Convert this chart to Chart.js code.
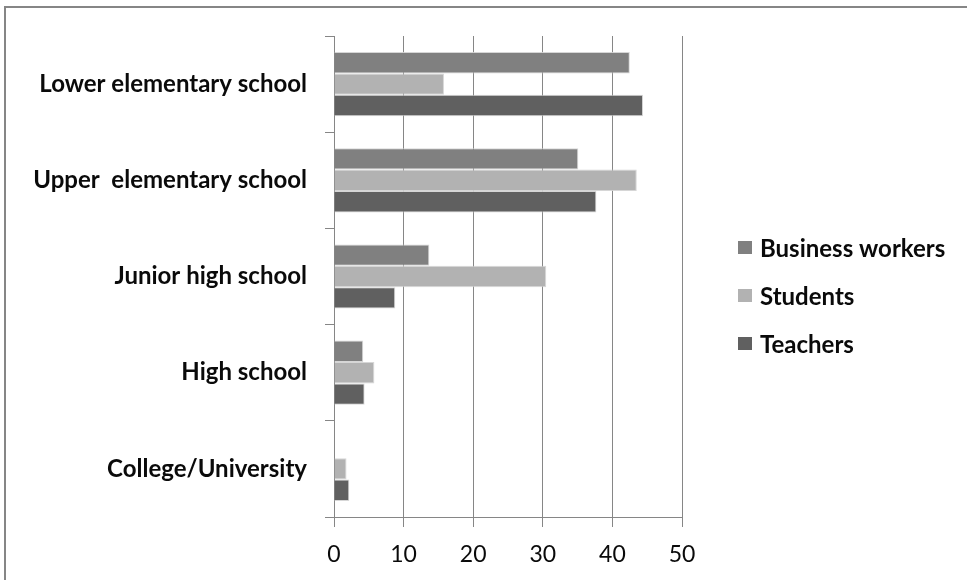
<!DOCTYPE html>
<html>
<head>
<meta charset="utf-8">
<script src="https://cdn.jsdelivr.net/npm/chart.js@4"></script>
<style>
  html, body { margin: 0; padding: 0; background: #fff; }
  #wrap { position: relative; width: 967px; height: 580px; overflow: hidden; }
  #frame { position: absolute; left: 4px; top: 6px; width: 1000px; height: 1000px;
           border-top: 2px solid #868686; border-left: 2px solid #868686; }
  canvas { position: absolute; left: 0; top: 0; }
</style>
</head>
<body>
<div id="wrap">
  <div id="frame"></div>
  <canvas id="chart" width="967" height="580"></canvas>
</div>
<script>
// categories and series
const categories = ['Lower elementary school', 'Upper  elementary school', 'Junior high school', 'High school', 'College/University'];
const businessWorkers = [42.5, 35.1, 13.7, 4.2, 0];
const students = [15.8, 43.5, 30.5, 5.8, 1.8];
const teachers = [44.4, 37.7, 8.8, 4.4, 2.2];
const xTicks = [0, 10, 20, 30, 40, 50];

const seriesNames = ['Business workers', 'Students', 'Teachers'];
const seriesColors = ['#808080', '#b2b2b2', '#606060'];

const gridGray = '#868686';
const labelFont = 'Lato, "Open Sans", sans-serif';

// simple legend on the right, Excel style
const sideLegend = {
  id: 'sideLegend',
  afterDraw(chart) {
    const ctx = chart.ctx;
    ctx.save();
    ctx.font = 'bold 24px ' + labelFont;
    ctx.textBaseline = 'middle';
    ctx.textAlign = 'left';
    chart.data.datasets.forEach((ds, i) => {
      const y = 248 + i * 48;
      ctx.fillStyle = ds.backgroundColor;
      ctx.fillRect(738, y - 7, 14, 13);
      ctx.fillStyle = '#0a0a0a';
      ctx.fillText(ds.label, 760, y + 1);
    });
    ctx.restore();
  }
};

const ctx = document.getElementById('chart').getContext('2d');
new Chart(ctx, {
  type: 'bar',
  data: {
    labels: categories,
    datasets: [
      { label: seriesNames[0], data: businessWorkers, backgroundColor: seriesColors[0] },
      { label: seriesNames[1], data: students, backgroundColor: seriesColors[1] },
      { label: seriesNames[2], data: teachers, backgroundColor: seriesColors[2] }
    ]
  },
  options: {
    indexAxis: 'y',
    responsive: false,
    animation: false,
    datasets: {
      bar: {
        categoryPercentage: 0.667,
        barPercentage: 1.0,
        borderWidth: 1,
        borderColor: 'rgba(210,210,210,0.9)'
      }
    },
    layout: { padding: { left: 34, right: 285, top: 36, bottom: 13 } },
    plugins: {
      legend: { display: false },
      tooltip: { enabled: false }
    },
    scales: {
      x: {
        min: 0,
        max: 50,
        afterBuildTicks(scale) { scale.ticks = xTicks.map(v => ({ value: v })); },
        afterFit(scale) { scale.height = 50; },
        border: { display: true, color: gridGray, width: 1 },
        grid: { color: gridGray, lineWidth: 1, tickLength: 10 },
        ticks: {
          padding: 14,
          color: '#0a0a0a',
          font: { family: labelFont, size: 23 }
        }
      },
      y: {
        afterFit(scale) { scale.width = 300; },
        border: { display: true, color: gridGray, width: 1 },
        grid: { drawOnChartArea: false, offset: true, color: gridGray, tickLength: 9 },
        ticks: {
          padding: 18,
          color: '#0a0a0a',
          font: { family: labelFont, size: 24, weight: 'bold' }
        }
      }
    }
  },
  plugins: [sideLegend]
});
</script>
</body>
</html>
